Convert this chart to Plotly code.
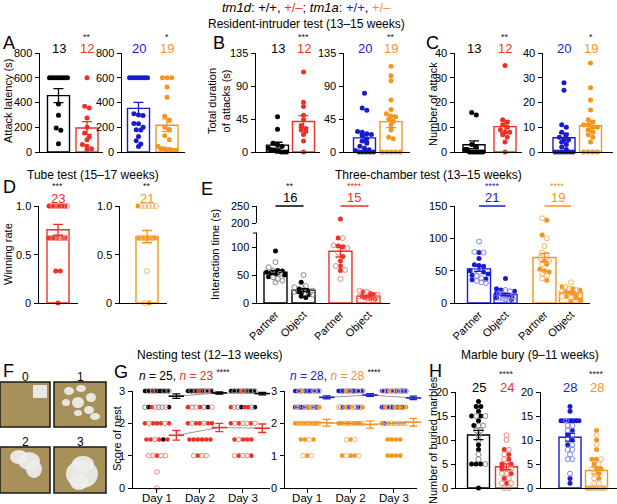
import numpy as np
import plotly.graph_objects as go

W, H = 617, 504
FONT = "Liberation Sans, Arial, Helvetica, sans-serif"
K = "#000000"; R = "#EE3124"; B = "#1A1ACF"; O = "#F7941D"
LIGHT = {K: "#8a8a8a", R: "#F3857C", B: "#8184EA", O: "#F9B56C"}

# ---------------- DATA ----------------
# A: attack latency (s)
A_wt_tm1d = [600, 600, 600, 600, 600, 600, 600, 600, 388, 296, 194, 175, 67]
A_het_tm1d = [600, 370, 356, 275, 200, 154, 121, 100, 60, 46, 27, 20]
A_wt_tm1a = [600, 600, 600, 600, 600, 600, 600, 600, 310, 300, 295, 230, 228, 200, 180, 178, 125, 90, 65, 45]
A_het_tm1a = [600, 600, 600, 525, 442, 288, 256, 200, 181, 132, 100, 46, 27, 27, 20, 20, 15, 15, 10]
# B: total duration of attacks (s)
B_wt_tm1d = [48, 31, 12, 10, 8, 5, 3, 2, 1, 1, 0, 0, 0]
B_het_tm1d = [109, 68, 62, 50, 44, 36, 32, 30, 28, 24, 15, 0]
B_wt_tm1a = [80, 60, 57, 28, 27, 25, 24, 22, 18, 15, 12, 8, 5, 3, 2, 0, 0, 0, 0, 0]
B_het_tm1a = [117, 104, 97, 71, 58, 52, 49, 48, 45, 42, 37, 30, 20, 18, 0, 0, 0, 0, 0]
# C: number of attack
C_wt_tm1d = [16, 15, 3, 2, 1, 1, 0, 0, 0, 0, 0, 0, 0]
C_het_tm1d = [35, 13, 12, 11, 10, 9, 8, 8, 7, 6, 4, 0]
C_wt_tm1a = [28, 25, 11, 10, 8, 7, 6, 5, 5, 4, 3, 2, 1, 0, 0, 0, 0, 0, 0, 0]
C_het_tm1a = [36, 26, 21, 17, 13, 12, 11, 11, 10, 10, 9, 8, 7, 6, 4, 0, 0, 0, 0]
# D: tube test winning rate (counts of animals per level)
D_levels = [1.0, 0.67, 0.33, 0.0]
D_het_tm1d_filled = [7, 6, 2, 1]
D_het_tm1d_open = [3, 4, 0, 0]
D_het_tm1a_filled = [1, 8, 0, 1]
D_het_tm1a_open = [5, 4, 1, 1]
# E: three-chamber interaction time (s)
E_labels = ["Partner", "Object"]
E_wt_tm1d_partner_f = [93, 58, 57, 55, 54, 52, 50, 47]
E_wt_tm1d_partner_o = [73, 64, 58, 52, 46, 43, 40, 37]
E_wt_tm1d_object_f = [37, 25, 22, 20, 18, 15, 12, 10]
E_wt_tm1d_object_o = [50, 30, 28, 25, 22, 20, 18, 15]
E_het_tm1d_partner_f = [212, 116, 102, 100, 83, 75, 66, 58]
E_het_tm1d_partner_o = [116, 103, 98, 90, 66, 59, 43]
E_het_tm1d_object_f = [20, 17, 15, 12, 10, 8, 7]
E_het_tm1d_object_o = [22, 20, 15, 12, 10, 8, 5, 3]
E_wt_tm1a_partner_f = [78, 69, 59, 58, 57, 50, 48, 45, 43, 37, 36]
E_wt_tm1a_partner_o = [95, 79, 78, 50, 48, 42, 38, 34, 32, 31]
E_wt_tm1a_object_f = [38, 22, 20, 18, 15, 12, 10, 8, 5]
E_wt_tm1a_object_o = [20, 18, 15, 14, 12, 10, 9, 8, 7, 6, 5, 4]
E_het_tm1a_partner_f = [128, 105, 65, 60, 52, 50, 48, 35]
E_het_tm1a_partner_o = [131, 100, 88, 78, 75, 70, 65, 60, 45, 42, 38]
E_het_tm1a_object_f = [25, 22, 20, 18, 15, 12, 10, 8, 5, 3]
E_het_tm1a_object_o = [32, 25, 22, 20, 18, 15, 12, 10, 8]
# G: nest score, counts of animals per score level for day 1..3
G_levels = [3, 2.5, 2, 1.5, 1, 0.5, 0]
G_days = ["Day 1", "Day 2", "Day 3"]
G_wt_tm1d_filled = [[15, 2, 0, 1, 0, 0, 0], [16, 1, 0, 0, 0, 0, 0], [15, 2, 0, 0, 0, 0, 0]]
G_wt_tm1d_open = [[4, 3, 0, 0, 0, 0, 0], [6, 2, 0, 0, 0, 0, 0], [6, 2, 0, 0, 0, 0, 0]]
G_het_tm1d_filled = [[0, 1, 5, 4, 1, 0, 0], [1, 2, 5, 6, 1, 0, 0], [1, 3, 3, 4, 2, 0, 0]]
G_het_tm1d_open = [[1, 2, 2, 1, 4, 1, 1], [1, 2, 2, 0, 3, 0, 0], [1, 1, 4, 1, 3, 0, 0]]
G_wt_tm1a_filled = [[12, 8, 0, 0, 0, 0, 0], [17, 3, 0, 0, 0, 0, 0], [11, 7, 1, 0, 0, 0, 0]]
G_wt_tm1a_open = [[5, 3, 0, 0, 0, 0, 0], [4, 4, 0, 0, 0, 0, 0], [6, 3, 0, 0, 0, 0, 0]]
G_het_tm1a_filled = [[1, 2, 9, 3, 1, 0, 0], [1, 3, 9, 1, 3, 0, 0], [1, 4, 5, 4, 4, 0, 0]]
G_het_tm1a_open = [[2, 3, 4, 1, 2, 0, 0], [2, 2, 3, 2, 2, 0, 0], [3, 2, 5, 0, 0, 0, 0]]
# H: number of buried marbles
H_wt_tm1d_f = [18, 17, 17, 16, 15, 15, 14, 13, 9, 8, 5, 5, 5, 0]
H_wt_tm1d_o = [13, 15, 15, 13, 12, 12, 11, 10, 7, 6, 5]
H_het_tm1d_f = [8, 7, 6, 5, 5, 4, 3, 2, 1]
H_het_tm1d_o = [11, 10, 8, 7, 6, 5, 4, 4, 3, 3, 2, 1, 1, 0, 0]
H_wt_tm1a_f = [17, 16, 14, 14, 14, 14, 14, 14, 14, 12, 11, 10, 9, 2, 1]
H_wt_tm1a_o = [14, 13, 13, 12, 11, 10, 9, 8, 8, 7, 6, 6, 3]
H_het_tm1a_f = [12, 10, 8, 6, 6, 5, 4, 4, 3, 2, 0, 0, 0, 0]
H_het_tm1a_o = [11, 9, 6, 5, 4, 3, 2, 1, 1, 0, 0, 0, 0, 0]

# significance marks
A_stars = ["**", "*"]; B_stars = ["***", "**"]; C_stars = ["**", "*"]
D_stars = ["***", "**"]; E_stars = ["**", "****", "****", "****"]
G_stars = ["****", "****"]; H_stars = ["****", "****"]

# ---------------- helpers ----------------
layout_axes = {}
traces = []
annots = []
shapes = []
_n = [0]


def fx(p):
    return p / W


def fy(p):
    return 1 - p / H


XB = dict(showline=True, linecolor="black", linewidth=1, showgrid=False, zeroline=False,
          ticks="", showticklabels=False, fixedrange=True)
YB = dict(showline=True, linecolor="black", linewidth=1, showgrid=False, zeroline=False,
          ticks="outside", ticklen=4, tickwidth=1, tickcolor="black", showticklabels=False,
          fixedrange=True)


def new_axes(xpx, ypx, xr, yr, xkw=None, ykw=None, ticktext=None):
    _n[0] += 1
    s = "" if _n[0] == 1 else str(_n[0])
    xa = dict(XB, domain=[fx(xpx[0]), fx(xpx[1])], range=xr, anchor="y" + s)
    ya = dict(YB, domain=[fy(ypx[1]), fy(ypx[0])], range=yr, anchor="x" + s)
    if xkw:
        xa.update(xkw)
    if ykw:
        ya.update(ykw)
    ya["tickmode"] = "array"
    layout_axes["xaxis" + s] = xa
    layout_axes["yaxis" + s] = ya
    # y tick labels as text placed through the axis' own scale
    tv = ya.get("tickvals", [])
    tt = ticktext if ticktext else ["%g" % v for v in tv]
    for v, t in zip(tv, tt):
        annots.append(dict(x=fx(xpx[0] - 6), y=v, xref="paper", yref="y" + s, text=t, showarrow=False,
                           xanchor="right", yanchor="middle",
                           font=dict(size=11, color="black", family=FONT)))
    return "x" + s, "y" + s


def text(x, y, s, size=12, color="black", xanchor="center", xref="paper", angle=0):
    annots.append(dict(x=x, y=y, text=s, xref=xref, yref="paper", showarrow=False,
                       font=dict(size=size, color=color, family=FONT),
                       xanchor=xanchor, yanchor="middle", textangle=angle))


def swarm(vals, ppu_y, ppu_x, half_px, dot=4.6):
    v = np.asarray(vals, float)
    offs = np.zeros(len(v))
    order = sorted(range(len(v)), key=lambda i: (-v[i], (i * 0.618) % 1))
    bins, cur, start = [], [], None
    for i in order:
        p = v[i] * ppu_y
        if cur and abs(start - p) > dot * 0.9:
            bins.append(cur)
            cur = []
        if not cur:
            start = p
        cur.append(i)
    if cur:
        bins.append(cur)
    for b in bins:
        k = len(b)
        if k < 2:
            continue
        sp = min(dot, 2 * half_px / (k - 1))
        for j, i in enumerate(b):
            offs[i] = (j - (k - 1) / 2) * sp / ppu_x
    return offs


def add_dots(xa, ya, xs, ys, color, filled, size=5):
    if len(ys) == 0:
        return
    traces.append(go.Scatter(
        x=list(xs), y=list(ys), xaxis=xa, yaxis=ya, mode="markers", cliponaxis=False,
        marker=dict(symbol="circle" if filled else "circle-open", size=size,
                    color=color if filled else LIGHT[color],
                    line=dict(width=0 if filled else 1)),
        hoverinfo="skip"))


def add_group(xa, ya, pos, filled, opened, color, bw, ppu_y, ppu_x, half_px=9, cap=5, upper=None):
    allv = np.array(list(filled) + list(opened), float)
    nf = len(filled)
    m = allv.mean()
    se = allv.std(ddof=1) / np.sqrt(len(allv))
    traces.append(go.Bar(x=[pos], y=[m], width=bw, xaxis=xa, yaxis=ya,
                         marker=dict(color="rgba(255,255,255,0)", line=dict(color=color, width=1.4)),
                         hoverinfo="skip"))
    offs = swarm(allv, ppu_y, ppu_x, half_px)
    xs = pos + offs
    isf = np.arange(len(allv)) < nf
    for fl in (True, False):
        sel = isf == fl
        if upper is not None:
            lo = sel & (allv <= upper[2])
            hi = sel & (allv > upper[2])
            add_dots(xa, ya, xs[lo], allv[lo], color, fl)
            add_dots(upper[0], upper[1], xs[hi], allv[hi], color, fl)
        else:
            add_dots(xa, ya, xs[sel], allv[sel], color, fl)
    traces.append(go.Scatter(x=[pos], y=[m], xaxis=xa, yaxis=ya, mode="markers",
                             marker=dict(color="rgba(0,0,0,0)", size=1),
                             error_y=dict(type="data", array=[se], color=color, thickness=1.3, width=cap),
                             hoverinfo="skip"))
    return len(allv)


BW = 22.0


def bar_panel(xpx, c0, d, ypx, yr, tickvals, ticktext, groups, stars, n_y, star_y):
    xr = [(xpx[0] - c0) / d, (xpx[1] - c0) / d]
    xa, ya = new_axes(xpx, ypx, xr, yr, ykw=dict(tickvals=tickvals), ticktext=ticktext)
    ppu_y = (ypx[1] - ypx[0]) / (yr[1] - yr[0])
    for pos, (f, o, col) in enumerate(groups):
        n = add_group(xa, ya, pos, f, o, col, BW / d, ppu_y, d)
        text(pos, fy(n_y), str(n), size=13, color=col, xref=xa)
    if stars:
        text(len(groups) - 1, fy(star_y), stars, size=9, color="#222222", xref=xa)
    return xa, ya


# ---------------- Row 1: resident-intruder ----------------
Y1 = (53, 152)
NY1, SY1 = 48, 37
bar_panel((40, 103), 58.5, 28.5, Y1, [0, 800], [0, 200, 400, 600, 800], None,
          [(A_wt_tm1d, [], K), (A_het_tm1d, [], R)], A_stars[0], NY1, SY1)
bar_panel((122, 185), 138.5, 28.5, Y1, [0, 800], [0, 200, 400, 600, 800], None,
          [(A_wt_tm1a, [], B), (A_het_tm1a, [], O)], A_stars[1], NY1, SY1)
bar_panel((256, 320), 277.5, 26, Y1, [0, 135], [0, 45, 90, 135], None,
          [(B_wt_tm1d, [], K), (B_het_tm1d, [], R)], B_stars[0], NY1, SY1)
bar_panel((344, 410), 364.5, 26.5, Y1, [0, 135], [0, 45, 90, 135], None,
          [(B_wt_tm1a, [], B), (B_het_tm1a, [], O)], B_stars[1], NY1, SY1)
bar_panel((455, 522), 474, 31, Y1, [0, 40], [0, 10, 20, 30, 40], None,
          [(C_wt_tm1d, [], K), (C_het_tm1d, [], R)], C_stars[0], NY1, SY1)
bar_panel((543, 613), 564, 26.5, Y1, [0, 40], [0, 10, 20, 30, 40], None,
          [(C_wt_tm1a, [], B), (C_het_tm1a, [], O)], C_stars[1], NY1, SY1)

text(fx(306), fy(8), "<i>tm1d</i>: +/+, <span style='color:%s'>+/–</span>; <i>tm1a</i>: "
     "<span style='color:%s'>+/+</span>, <span style='color:%s'>+/–</span>" % (R, B, O), size=13)
text(fx(306), fy(24), "Resident-intruder test (13–15 weeks)", size=12)
text(fx(8), fy(101), "Attack latency (s)", size=11, angle=-90)
text(fx(219), fy(101), "Total duration<br>of attacks (s)", size=11, angle=-90)
text(fx(433), fy(104), "Number of attack", size=11, angle=-90)

# ---------------- Row 2: tube test ----------------
Y2 = (206, 303)
D_ticks = [0, 0.5, 1.0]
D_ticktext = ["0", "0.5", "1.0"]
for xpx, c0, fc, oc, col, st in [((39, 78), 58, D_het_tm1d_filled, D_het_tm1d_open, R, D_stars[0]),
                                  ((120, 167), 147, D_het_tm1a_filled, D_het_tm1a_open, O, D_stars[1])]:
    f = list(np.repeat(D_levels, fc))
    o = list(np.repeat(D_levels, oc))
    bar_panel(xpx, c0, 27.5, Y2, [0, 1], D_ticks, D_ticktext, [(f, o, col)], st, 199, 186)
text(fx(93), fy(175), "Tube test (15–17 weeks)", size=12)
text(fx(8), fy(254), "Winning rate", size=11, angle=-90)

# ---------------- Row 2: three-chamber ----------------
EBW = 23.0
# left (tm1d) with broken axis
E1_pos = [0, 1, 2.32, 3.32]
E1_u = 28.0
E1_c0 = 275.5
E1_xpx = (257, 390)
E1_xr = [(E1_xpx[0] - E1_c0) / E1_u, (E1_xpx[1] - E1_c0) / E1_u]
ex_kw = dict(showticklabels=True, tickvals=E1_pos, ticktext=E_labels * 2, tickangle=-45,
             tickfont=dict(size=11, family=FONT, color="black"))
xaL, yaL = new_axes(E1_xpx, (233, 303), E1_xr, [0, 125], xkw=ex_kw,
                    ykw=dict(tickvals=[0, 50, 100]))
xaU, yaU = new_axes(E1_xpx, (206, 223), E1_xr, [200, 250], xkw=dict(visible=False),
                    ykw=dict(tickvals=[200, 250]))
# axis-break tick at the top of the lower segment
shapes.append(dict(type="line", xref="paper", yref="paper", x0=fx(253), x1=fx(257), y0=fy(233), y1=fy(233),
                   line=dict(color="black", width=1)))
ppuL = 70 / 125
E1_groups = [(E_wt_tm1d_partner_f, E_wt_tm1d_partner_o, K), (E_wt_tm1d_object_f, E_wt_tm1d_object_o, K),
             (E_het_tm1d_partner_f, E_het_tm1d_partner_o, R), (E_het_tm1d_object_f, E_het_tm1d_object_o, R)]
ns = []
for pos, (f, o, col) in zip(E1_pos, E1_groups):
    ns.append(add_group(xaL, yaL, pos, f, o, col, EBW / E1_u, ppuL, E1_u, upper=(xaU, yaU, 125)))
for j, col in enumerate([K, R]):
    p0, p1 = E1_pos[2 * j], E1_pos[2 * j + 1]
    shapes.append(dict(type="line", xref=xaL, yref="paper", x0=p0, x1=p1, y0=fy(206), y1=fy(206),
                       line=dict(color=col, width=1.5)))
    text((p0 + p1) / 2, fy(198), str(ns[2 * j]), size=13, color=col, xref=xaL)
    text((p0 + p1) / 2, fy(186), E_stars[j], size=9, color=col if col != K else "#222222", xref=xaL)

# right (tm1a)
E2_pos = [0, 1, 2.47, 3.47]
E2_u = 26.5
E2_c0 = 479
E2_xpx = (455, 590)
E2_xr = [(E2_xpx[0] - E2_c0) / E2_u, (E2_xpx[1] - E2_c0) / E2_u]
ex_kw2 = dict(ex_kw, tickvals=E2_pos)
xaR, yaR = new_axes(E2_xpx, Y2, E2_xr, [0, 150], xkw=ex_kw2, ykw=dict(tickvals=[0, 50, 100, 150]))
ppuR = 97 / 150
E2_groups = [(E_wt_tm1a_partner_f, E_wt_tm1a_partner_o, B), (E_wt_tm1a_object_f, E_wt_tm1a_object_o, B),
             (E_het_tm1a_partner_f, E_het_tm1a_partner_o, O), (E_het_tm1a_object_f, E_het_tm1a_object_o, O)]
ns = []
for pos, (f, o, col) in zip(E2_pos, E2_groups):
    ns.append(add_group(xaR, yaR, pos, f, o, col, EBW / E2_u, ppuR, E2_u))
for j, col in enumerate([B, O]):
    p0, p1 = E2_pos[2 * j], E2_pos[2 * j + 1]
    shapes.append(dict(type="line", xref=xaR, yref="paper", x0=p0, x1=p1, y0=fy(206), y1=fy(206),
                       line=dict(color=col, width=1.5)))
    text((p0 + p1) / 2, fy(198), str(ns[2 * j]), size=13, color=col, xref=xaR)
    text((p0 + p1) / 2, fy(186), E_stars[2 + j], size=9, color=col, xref=xaR)

text(fx(428), fy(175), "Three-chamber test (13–15 weeks)", size=12)
text(fx(215), fy(255), "Interaction time (s)", size=11, angle=-90)

# ---------------- Row 3: F photos (illustration) ----------------
PHOTOS = [(0, 382, 50, 427), (54, 382, 106, 427), (0, 447, 50, 493), (54, 447, 106, 493)]
for i, (x0, y0, x1, y1) in enumerate(PHOTOS):
    shapes.append(dict(type="rect", xref="paper", yref="paper", x0=fx(x0), x1=fx(x1), y0=fy(y1), y1=fy(y0),
                       fillcolor="#A8905A", line=dict(color="#1a1a1a", width=1.5), layer="above"))
    text(fx((x0 + x1) / 2), fy(y0 - 5), str(i), size=12)
NEST_BLOBS = [
    ("rect", 33, 385, 47, 398),
    ("circle", 64, 387, 74, 395), ("circle", 76, 385, 86, 392), ("circle", 86, 393, 96, 402),
    ("circle", 62, 399, 70, 406), ("circle", 72, 397, 84, 408), ("circle", 84, 406, 94, 414),
    ("circle", 90, 413, 100, 420), ("circle", 74, 410, 82, 416),
    ("circle", 10, 450, 28, 464), ("circle", 18, 452, 40, 470), ("circle", 26, 460, 42, 478),
    ("circle", 66, 460, 98, 488), ("circle", 72, 456, 94, 472), ("circle", 70, 474, 88, 490),
]
for kind, x0, y0, x1, y1 in NEST_BLOBS:
    shapes.append(dict(type=kind, xref="paper", yref="paper", x0=fx(x0), x1=fx(x1), y0=fy(y1), y1=fy(y0),
                       fillcolor="rgba(238,238,236,0.92)", line=dict(width=0), layer="above"))

# ---------------- Row 3: G nesting ----------------
GY = (391, 488)


def nest_panel(xpx, xr, groups, label_x, label_parts):
    xa, ya = new_axes(xpx, GY, xr, [0, 3],
                      xkw=dict(ticks="outside", ticklen=4, tickwidth=1, tickcolor="black",
                               showticklabels=True, tickvals=[1, 2, 3], ticktext=G_days,
                               ticklabelstandoff=-5,
                               tickfont=dict(size=11.5, family=FONT, color="black")),
                      ykw=dict(tickvals=[0, 1, 2, 3]))
    ppu_x = (xpx[1] - xpx[0]) / (xr[1] - xr[0])
    ppu_y = (GY[1] - GY[0]) / 3
    pts = {}
    for d in range(3):
        vals, keys = [], []
        for gi, (fc, oc, col) in enumerate(groups):
            fv = list(np.repeat(G_levels, fc[d]))
            ov = list(np.repeat(G_levels, oc[d]))
            vals += fv + ov
            keys += [(gi, True)] * len(fv) + [(gi, False)] * len(ov)
        offs = swarm(vals, ppu_y, ppu_x, 12, dot=4.2)
        for v, o, k in zip(vals, offs, keys):
            pts.setdefault(k, ([], []))
            pts[k][0].append(d + 1 + o)
            pts[k][1].append(v)
    for gi, (fc, oc, col) in enumerate(groups):
        for fl in (True, False):
            if (gi, fl) in pts:
                add_dots(xa, ya, pts[(gi, fl)][0], pts[(gi, fl)][1], col, fl, size=4.6)
    for gi, (fc, oc, col) in enumerate(groups):
        means, sems = [], []
        for d in range(3):
            allv = np.concatenate([np.repeat(G_levels, fc[d]), np.repeat(G_levels, oc[d])])
            means.append(allv.mean())
            sems.append(allv.std(ddof=1) / np.sqrt(len(allv)))
        mx = [1.45, 2.45, 3.45]
        traces.append(go.Scatter(x=mx, y=means, xaxis=xa, yaxis=ya, mode="lines",
                                 line=dict(color="#999999", width=1), hoverinfo="skip", cliponaxis=False))
        traces.append(go.Scatter(x=mx, y=means, xaxis=xa, yaxis=ya, mode="markers", cliponaxis=False,
                                 marker=dict(symbol="line-ew", size=11, color=col, line=dict(color=col, width=1.6)),
                                 error_y=dict(type="data", array=sems, color=col, thickness=1.3, width=4),
                                 hoverinfo="skip"))
    annots.append(dict(x=fx(label_x), y=fy(375), xref="paper", yref="paper", showarrow=False,
                       xanchor="left", yanchor="middle", text=label_parts,
                       font=dict(size=12, family=FONT, color="black")))
    return xa, ya


def ntot(fc, oc):
    return int(np.sum(fc[0]) + np.sum(oc[0]))


gl = [(G_wt_tm1d_filled, G_wt_tm1d_open, K), (G_het_tm1d_filled, G_het_tm1d_open, R)]
gr = [(G_wt_tm1a_filled, G_wt_tm1a_open, B), (G_het_tm1a_filled, G_het_tm1a_open, O)]
lab_l = ("<i>n</i> = %d, <span style='color:%s'><i>n</i> = %d</span> <sup>%s</sup>"
         % (ntot(*gl[0][:2]), R, ntot(*gl[1][:2]), G_stars[0]))
lab_r = ("<span style='color:%s'><i>n</i> = %d</span>, <span style='color:%s'><i>n</i> = %d</span> <sup>%s</sup>"
         % (B, ntot(*gr[0][:2]), O, ntot(*gr[1][:2]), G_stars[1]))
nest_panel((133, 270), [0.442, 3.63], gl, 137, lab_l)
nest_panel((285, 417), [0.49, 3.53], gr, 288, lab_r)
text(fx(209), fy(355), "Nesting test (12–13 weeks)", size=12)
text(fx(117), fy(439), "Score of nest", size=11, angle=-90)

# ---------------- Row 3: H marble bury ----------------
HY = (392, 488)
bar_panel((456, 524), 478.5, 28, HY, [0, 20], [0, 5, 10, 15, 20], None,
          [(H_wt_tm1d_f, H_wt_tm1d_o, K), (H_het_tm1d_f, H_het_tm1d_o, R)], H_stars[0], 387, 374)
bar_panel((541, 617), 570, 26.5, HY, [0, 20], [0, 5, 10, 15, 20], None,
          [(H_wt_tm1a_f, H_wt_tm1a_o, B), (H_het_tm1a_f, H_het_tm1a_o, O)], H_stars[1], 387, 374)
text(fx(530), fy(355), "Marble bury (9–11 weeks)", size=12)
text(fx(433), fy(440), "Number of buried marbles", size=11, angle=-90)

# ---------------- panel letters ----------------
for L, x, y in [("A", 1, 43), ("B", 211, 43), ("C", 424, 43), ("D", 1, 187), ("E", 199, 189),
                ("F", 1, 371), ("G", 112, 372), ("H", 427, 371)]:
    annots.append(dict(x=fx(x), y=fy(y), xref="paper", yref="paper", showarrow=False, xanchor="left",
                       yanchor="middle", text=L, font=dict(size=18, family=FONT, color="black")))

fig = go.Figure(data=traces)
fig.update_layout(width=W, height=H, margin=dict(l=0, r=0, t=0, b=0, autoexpand=False),
                  paper_bgcolor="white", plot_bgcolor="rgba(0,0,0,0)", barmode="overlay", showlegend=False,
                  font=dict(family=FONT, color="black", size=11),
                  annotations=annots, shapes=shapes, **layout_axes)
fig.write_html("out.html", config={"displayModeBar": False},
               post_script="document.body.style.margin='0px';document.body.style.padding='0px';"
                           "var gd=document.getElementById('{plot_id}');Plotly.relayout(gd,{});")
